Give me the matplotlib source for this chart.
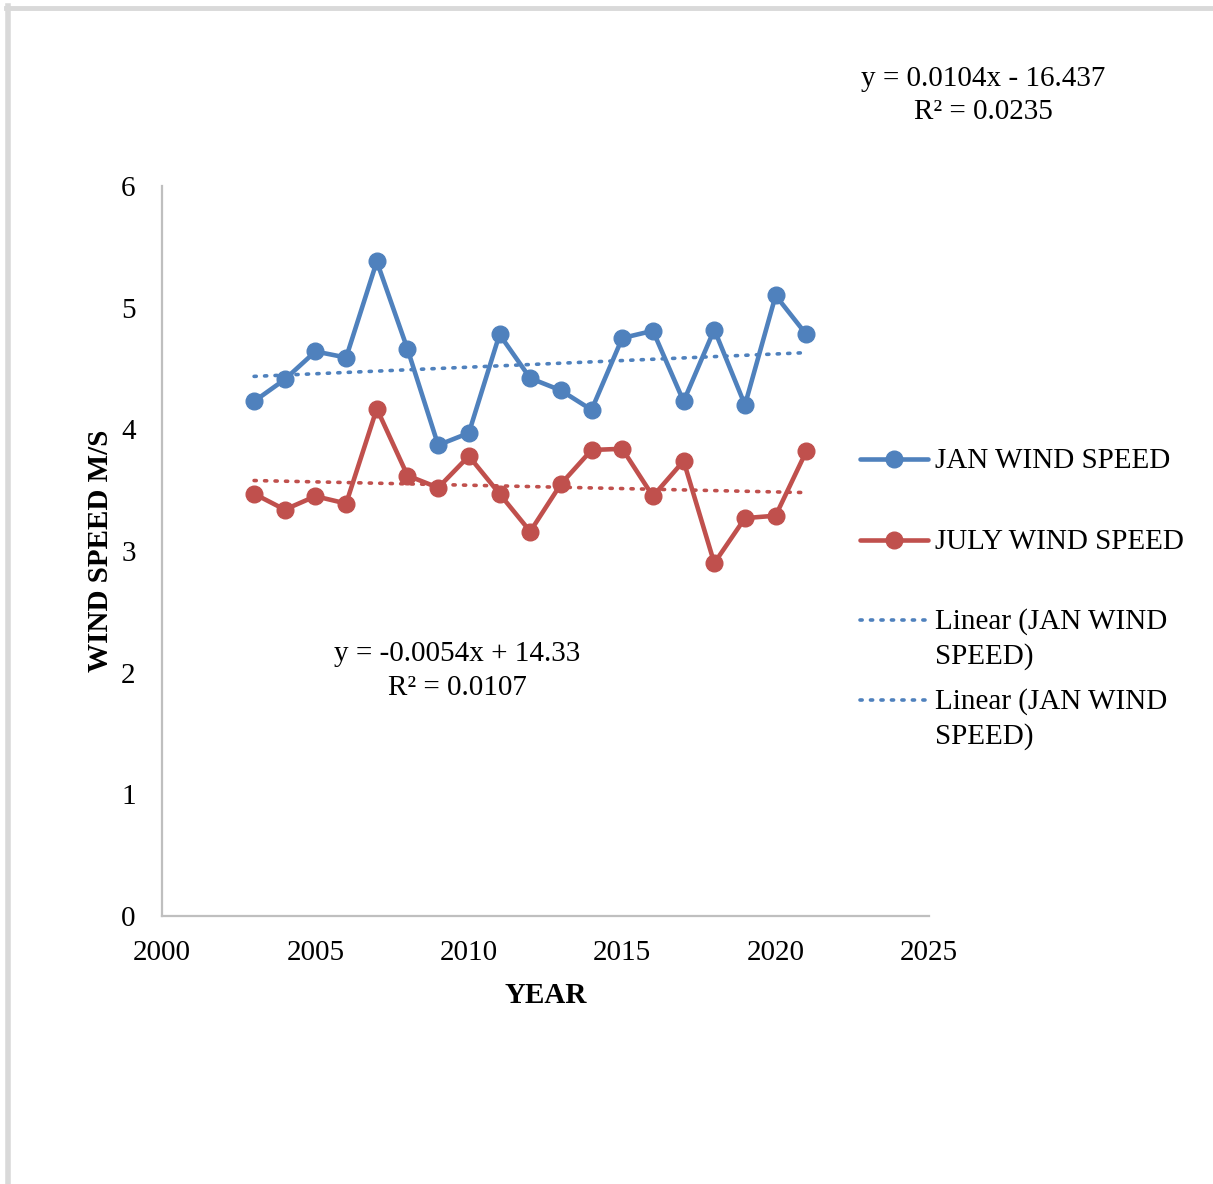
import numpy as np
import matplotlib.pyplot as plt
from matplotlib.lines import Line2D

# Monthly mean wind speed (m/s) by year
years = [2003, 2004, 2005, 2006, 2007, 2008, 2009, 2010, 2011, 2012,
         2013, 2014, 2015, 2016, 2017, 2018, 2019, 2020, 2021]
jan_speed = [4.23, 4.41, 4.64, 4.59, 5.38, 4.66, 3.87, 3.97, 4.78, 4.42,
             4.32, 4.16, 4.75, 4.81, 4.23, 4.82, 4.20, 5.10, 4.78]
july_speed = [3.47, 3.34, 3.45, 3.39, 4.17, 3.62, 3.52, 3.78, 3.47, 3.16,
              3.55, 3.83, 3.84, 3.45, 3.74, 2.90, 3.27, 3.29, 3.82]

jan_eq = ["y = 0.0104x - 16.437", "R\u00b2 = 0.0235"]
july_eq = ["y = -0.0054x + 14.33", "R\u00b2 = 0.0107"]

x_ticks = [2000, 2005, 2010, 2015, 2020, 2025]
y_ticks = [0, 1, 2, 3, 4, 5, 6]

BLUE = "#4F81BD"
RED = "#C0504D"
GRID = "#BFBFBF"
FONT = "Liberation Serif"
FS = 21

plt.rcParams["font.family"] = FONT

fig = plt.figure(figsize=(12.13, 11.84), dpi=100)
ax = fig.add_axes([0.1336, 0.2264, 0.6323, 0.6165])

x = np.array(years, dtype=float)
jan = np.array(jan_speed)
jul = np.array(july_speed)

LW = 3.3
MS = 12
line_kw = dict(lw=LW, marker="o", markersize=MS, solid_capstyle="round")
ax.plot(x, jan, color=BLUE, zorder=3, **line_kw)
ax.plot(x, jul, color=RED, zorder=3, **line_kw)

# Least-squares trend lines over the observed years
DOTS = (0, (0.6, 2.3))
dot_kw = dict(lw=2.6, linestyle=DOTS, dash_capstyle="round", zorder=2)
for vals, col in ((jan, BLUE), (jul, RED)):
    m, b = np.polyfit(x, vals, 1)
    ax.plot(x, m * x + b, color=col, **dot_kw)

ax.set_xlim(2000, 2025)
ax.set_ylim(0, 6)
ax.set_xticks(x_ticks)
ax.set_yticks(y_ticks)
ax.tick_params(length=0, labelsize=FS, colors="black")
ax.tick_params(axis="y", pad=19)
ax.tick_params(axis="x", pad=17)
for s in ("top", "right"):
    ax.spines[s].set_visible(False)
for s in ("left", "bottom"):
    ax.spines[s].set_color(GRID)
    ax.spines[s].set_linewidth(1.6)

ax.set_xlabel("YEAR", fontsize=FS, fontweight="bold", labelpad=11.5)
ax.set_ylabel("WIND SPEED M/S", fontsize=FS, fontweight="bold", labelpad=5)

# Trend equations
W, H = 1213, 1184
fig.text(983 / W, 1 - 79 / H, jan_eq[0], ha="center", va="center", fontsize=FS)
fig.text(983 / W, 1 - 112 / H, jan_eq[1], ha="center", va="center", fontsize=FS)
fig.text(457 / W, 1 - 654 / H, july_eq[0], ha="center", va="center", fontsize=FS)
fig.text(457 / W, 1 - 688 / H, july_eq[1], ha="center", va="center", fontsize=FS)

# Legend entries
entries = [
    (459, BLUE, True, ["JAN WIND SPEED"]),
    (540, RED, True, ["JULY WIND SPEED"]),
    (620, BLUE, False, ["Linear (JAN WIND", "SPEED)"]),
    (700, BLUE, False, ["Linear (JAN WIND", "SPEED)"]),
]
for ypix, col, solid, lines in entries:
    yf = 1 - ypix / H
    if solid:
        fig.add_artist(Line2D([860 / W, 928 / W], [yf, yf], transform=fig.transFigure,
                              color=col, lw=LW, solid_capstyle="round"))
        fig.add_artist(Line2D([894 / W], [yf], transform=fig.transFigure, color=col,
                              marker="o", markersize=MS, lw=0))
    else:
        fig.add_artist(Line2D([860 / W, 928 / W], [yf, yf], transform=fig.transFigure,
                              color=col, lw=2.6, linestyle=DOTS, dash_capstyle="round"))
    for i, t in enumerate(lines):
        fig.text(935 / W, 1 - (ypix + 2 + 35 * i) / H, t, ha="left", va="center", fontsize=FS)

# Page frame
fig.add_artist(Line2D([8 / W, 8 / W], [0, 1 - 6 / H], transform=fig.transFigure,
                      color="#D9D9D9", lw=4))
fig.add_artist(Line2D([6 / W, 1], [1 - 8 / H, 1 - 8 / H], transform=fig.transFigure,
                      color="#D9D9D9", lw=3.5))

fig.savefig("out.png", dpi=100, facecolor="white")
